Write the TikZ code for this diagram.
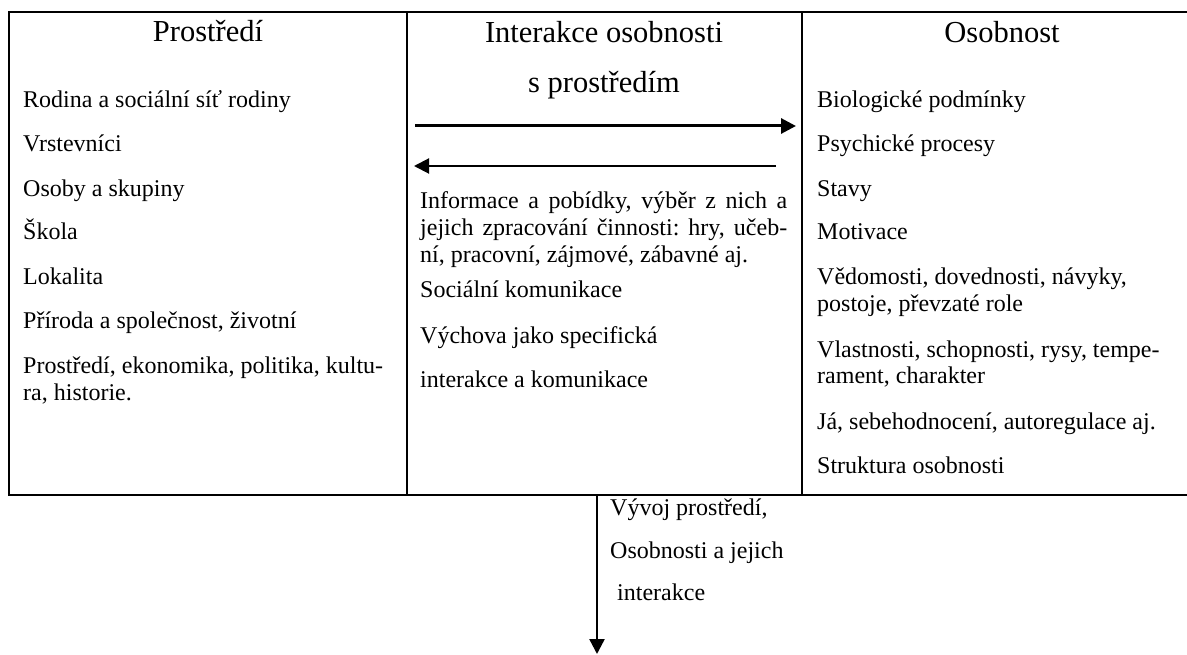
\documentclass[tikz,border=0pt]{standalone}
\usepackage{fontspec}
\setmainfont{Liberation Serif}
\usetikzlibrary{arrows.meta}
\frenchspacing
\begin{document}
\begin{tikzpicture}[x=1pt,y=-1pt,
  cellbox/.style={draw, line width=2.4pt, inner sep=0pt, outer sep=0pt, anchor=north west, minimum height=483pt},
  item/.style={anchor=base west, inner sep=0pt, font=\fontsize{24}{27.6}\selectfont},
  head/.style={anchor=base, inner sep=0pt, font=\fontsize{30.5}{35}\selectfont},
  tip/.style={-{Triangle[length=15pt,width=15pt]}}
]
\clip (0,0) rectangle (1187,655);
\fill[white] (0,0) rectangle (1187,655);
% table cells
\node[cellbox, minimum width=398pt] (env) at (9,12) {};
\node[cellbox, minimum width=395pt] (inter) at (407,12) {};
\node[cellbox, minimum width=398pt] (pers) at (802,12) {};
% titles
\node[head] (t1) at (208,42) {Prostředí};
\node[head] (t2) at (604,43) {Interakce osobnosti};
\node[head] (t2b) at (604,93) {s prostředím};
\node[head] (t3) at (1002,43) {Osobnost};
% left column
\node[item] (l1) at (23,108) {Rodina a sociální síť rodiny};
\node[item] (l2) at (23,152) {Vrstevníci};
\node[item] (l3) at (23,197) {Osoby a skupiny};
\node[item] (l4) at (23,240) {Škola};
\node[item] (l5) at (23,285) {Lokalita};
\node[item] (l6) at (23,328) {Příroda a společnost, životní};
\node[item] (l7) at (23,373) {Prostředí, ekonomika, politika, kultu-};
\node[item] (l8) at (23,400) {ra, historie.};
% middle column
\node[item] (m1) at (420,209) {\makebox[367pt][s]{Informace a pobídky, výběr z~nich a}};
\node[item] (m2) at (420,236) {\makebox[367pt][s]{jejich zpracování činnosti: hry, učeb-}};
\node[item] (m3) at (420,263) {ní, pracovní, zájmové, zábavné aj.};
\node[item] (m4) at (420,298) {Sociální komunikace};
\node[item] (m5) at (420,343) {Výchova jako specifická};
\node[item] (m6) at (420,387) {interakce a komunikace};
% right column
\node[item] (r1) at (817,108) {Biologické podmínky};
\node[item] (r2) at (817,152) {Psychické procesy};
\node[item] (r3) at (817,197) {Stavy};
\node[item] (r4) at (817,240) {Motivace};
\node[item] (r5) at (817,285) {Vědomosti, dovednosti, návyky,};
\node[item] (r6) at (817,312) {postoje, převzaté role};
\node[item] (r7) at (817,357) {Vlastnosti, schopnosti, rysy, tempe-};
\node[item] (r8) at (817,383) {rament, charakter};
\node[item] (r9) at (817,429) {Já, sebehodnocení, autoregulace aj.};
\node[item] (r10) at (817,473) {Struktura osobnosti};
% horizontal arrows
\coordinate (a1s) at (415,126);
\coordinate (a1e) at (796,126);
\coordinate (a2s) at (776,166);
\coordinate (a2e) at (414,166);
\draw[tip, line width=3pt] (a1s) -- (a1e);
\draw[tip, line width=2pt] (a2s) -- (a2e);
% vertical arrow
\coordinate (vs) at (597,495);
\coordinate (ve) at (597,654);
\draw[tip, line width=2.4pt] (vs) -- (ve);
\node[item] (b1) at (610,515) {Vývoj prostředí,};
\node[item] (b2) at (610,558) {Osobnosti a jejich};
\node[item] (b3) at (617,600) {interakce};
\end{tikzpicture}
\end{document}
